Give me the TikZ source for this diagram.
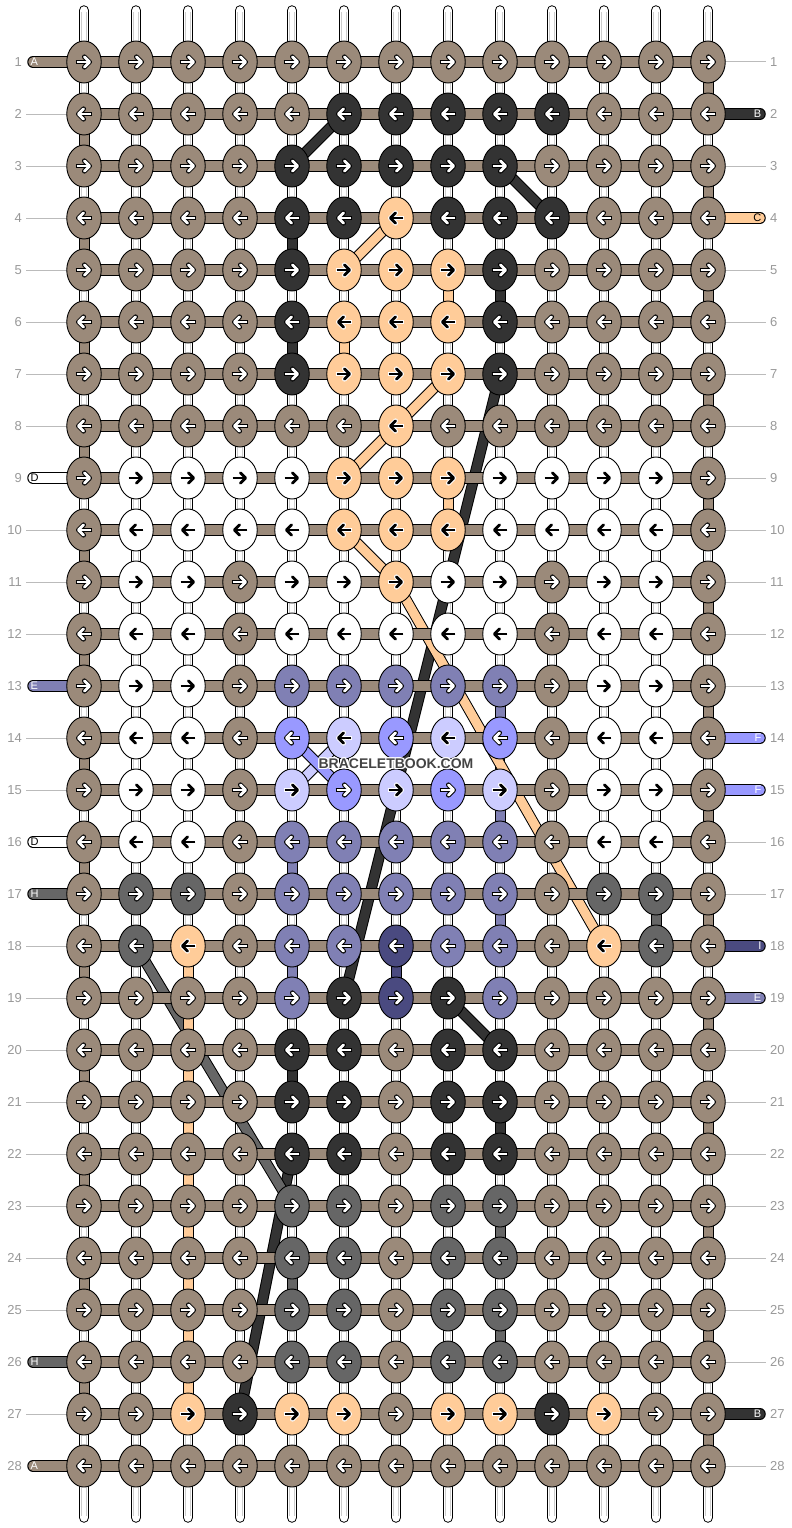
\documentclass[tikz,border=0pt]{standalone}
\usepackage{fontspec}
\setmainfont{Liberation Sans}
\usetikzlibrary{shapes.geometric}
\definecolor{cB}{HTML}{9B8A7A}
\definecolor{cD}{HTML}{333333}
\definecolor{cP}{HTML}{FFCC99}
\definecolor{cW}{HTML}{FFFFFF}
\definecolor{cM}{HTML}{8080B4}
\definecolor{cL}{HTML}{CCCCFF}
\definecolor{cV}{HTML}{9999FF}
\definecolor{cN}{HTML}{4A4A80}
\definecolor{cG}{HTML}{666666}
\definecolor{numgray}{HTML}{999999}
\definecolor{linegray}{HTML}{BBBBBB}
\definecolor{strgray}{HTML}{CCCCCC}
\definecolor{wmc}{HTML}{444444}
\def\fgB{white}\def\fgD{white}\def\fgP{black}\def\fgW{black}\def\fgM{white}
\def\fgL{black}\def\fgV{white}\def\fgN{white}\def\fgG{white}
\def\olB{black}\def\olD{black}\def\olP{white}\def\olW{white}\def\olM{black}
\def\olL{white}\def\olV{black}\def\olN{black}\def\olG{black}
\newcommand\thrd[3]{\draw[black,line width=11] (#2)--(#3);\draw[#1,line width=9] (#2)--(#3);}
\begin{document}
\begin{tikzpicture}[x=1pt,y=-1pt,
  knot/.style={ellipse,draw=black,line width=0.9,minimum width=34.5,minimum height=42,inner sep=0},
  num/.style={font=\fontsize{13}{15}\selectfont,text=numgray,inner sep=0},
  lab/.style={font=\fontsize{11}{13}\selectfont,inner sep=0},
  wm/.style={font=\bfseries\fontsize{14}{16}\selectfont,inner sep=0}]
\fill[white] (0,0) rectangle (792,1528);
\useasboundingbox (0,0) rectangle (792,1528);
% grid coordinates
\foreach \rw in {1,...,28}{\foreach \i in {1,...,13}{\coordinate (p\rw-\i) at ({32+52*\i},{10+52*\rw});}}
% vertical strings
\foreach \i in {1,...,13}{
  \coordinate (st\i) at ({32+52*\i},10.5);
  \coordinate (sb\i) at ({32+52*\i},1517.5);
  \coordinate (gt\i) at ({32+52*\i},12);
  \coordinate (gb\i) at ({32+52*\i},1516);
  \draw[black,line width=10.5,line cap=round] (st\i)--(sb\i);
  \draw[white,line width=8.5,line cap=round] (st\i)--(sb\i);
  \draw[strgray,line width=6] (gt\i)--(gb\i);
  \draw[white,line width=4] (gt\i)--(gb\i);
}
% diagonal thread paths
\foreach \a/\b/\cc in {2-6/3-5/cD,3-9/4-10/cD,7-9/19-6/cD,19-8/20-9/cD,22-5/27-4/cD,
  4-7/5-6/cP,7-8/8-7/cP,8-7/9-6/cP,10-6/11-7/cP,11-7/18-11/cP,18-2/23-5/cG,14-6/15-5/cL,14-5/15-6/cV}{
  \thrd{\cc}{p\a}{p\b}}
% vertical thread segments
\foreach \a in {2,4,...,26}{\pgfmathtruncatemacro\b{\a+1}\thrd{cB}{p\a-1}{p\b-1}}
\foreach \a in {1,3,...,27}{\pgfmathtruncatemacro\b{\a+1}\thrd{cB}{p\a-13}{p\b-13}}
\foreach \a in {18,...,26}{\pgfmathtruncatemacro\b{\a+1}\thrd{cP}{p\a-3}{p\b-3}}
\foreach \cl/\a/\cc in {5/4/cD,5/6/cD,5/16/cM,5/18/cM,5/20/cD,5/24/cG,9/5/cD,9/13/cM,9/15/cM,9/17/cM,
  9/21/cD,9/23/cG,9/25/cG,8/5/cP,8/9/cP,6/6/cP,7/18/cN,12/17/cG}{
  \pgfmathtruncatemacro\b{\a+1}\thrd{\cc}{p\a-\cl}{p\b-\cl}}
% horizontal bands
\foreach \rw in {1,...,28}{
  \draw[black,line width=11.5] (p\rw-1)--(p\rw-13);
  \draw[cB,line width=9.5] (p\rw-1)--(p\rw-13);
  \node[num,anchor=east] (nl\rw) at (22,{10+52*\rw}) {\rw};
  \node[num,anchor=west] (nr\rw) at (770,{10+52*\rw}) {\rw};
}
% left thread ends
\foreach \rw/\cc/\lb/\tc in {1/cB/A/white,9/cW/D/black,13/cM/E/white,16/cW/D/black,17/cG/H/white,26/cG/H/white,28/cB/A/white}{
  \coordinate (le\rw) at (33,{10+52*\rw});
  \draw[black,line width=11.5,line cap=round] (le\rw)--(p\rw-1);
  \draw[\cc,line width=9.5,line cap=round] (le\rw)--(p\rw-1);
  \node[lab,anchor=west,text=\tc] (ll\rw) at (30.5,{10+52*\rw}) {\lb};
}
% right thread ends
\foreach \rw/\cc/\lb/\tc in {2/cD/B/white,4/cP/C/black,14/cV/F/white,15/cV/F/white,18/cN/I/white,19/cM/E/white,27/cD/B/white}{
  \coordinate (re\rw) at (760,{10+52*\rw});
  \draw[black,line width=11.5,line cap=round] (p\rw-13)--(re\rw);
  \draw[\cc,line width=9.5,line cap=round] (p\rw-13)--(re\rw);
  \node[lab,anchor=east,text=\tc] (rl\rw) at (761.5,{10+52*\rw}) {\lb};
}
% grey leader lines
\foreach \rw in {2,3,4,5,6,7,8,10,11,12,14,15,18,19,20,21,22,23,24,25,27}{
  \coordinate (gl\rw) at (26,{10+52*\rw});
  \draw[linegray,line width=1] (gl\rw)--(p\rw-1);}
\foreach \rw in {1,3,5,6,7,8,9,10,11,12,13,16,17,20,21,22,23,24,25,26,28}{
  \coordinate (gr\rw) at (766,{10+52*\rw});
  \draw[linegray,line width=1] (p\rw-13)--(gr\rw);}
% knots
\foreach \rw/\rowlist in {
1/{B,B,B,B,B,B,B,B,B,B,B,B,B},
2/{B,B,B,B,B,D,D,D,D,D,B,B,B},
3/{B,B,B,B,D,D,D,D,D,B,B,B,B},
4/{B,B,B,B,D,D,P,D,D,D,B,B,B},
5/{B,B,B,B,D,P,P,P,D,B,B,B,B},
6/{B,B,B,B,D,P,P,P,D,B,B,B,B},
7/{B,B,B,B,D,P,P,P,D,B,B,B,B},
8/{B,B,B,B,B,B,P,B,B,B,B,B,B},
9/{B,W,W,W,W,P,P,P,W,W,W,W,B},
10/{B,W,W,W,W,P,P,P,W,W,W,W,B},
11/{B,W,W,B,W,W,P,W,W,B,W,W,B},
12/{B,W,W,B,W,W,W,W,W,B,W,W,B},
13/{B,W,W,B,M,M,M,M,M,B,W,W,B},
14/{B,W,W,B,V,L,V,L,V,B,W,W,B},
15/{B,W,W,B,L,V,L,V,L,B,W,W,B},
16/{B,W,W,B,M,M,M,M,M,B,W,W,B},
17/{B,G,G,B,M,M,M,M,M,B,G,G,B},
18/{B,G,P,B,M,M,N,M,M,B,P,G,B},
19/{B,B,B,B,M,D,N,D,M,B,B,B,B},
20/{B,B,B,B,D,D,B,D,D,B,B,B,B},
21/{B,B,B,B,D,D,B,D,D,B,B,B,B},
22/{B,B,B,B,D,D,B,D,D,B,B,B,B},
23/{B,B,B,B,G,G,B,G,G,B,B,B,B},
24/{B,B,B,B,G,G,B,G,G,B,B,B,B},
25/{B,B,B,B,G,G,B,G,G,B,B,B,B},
26/{B,B,B,B,G,G,B,G,G,B,B,B,B},
27/{B,B,P,D,P,P,B,P,P,D,P,B,B},
28/{B,B,B,B,B,B,B,B,B,B,B,B,B}}{
  \pgfmathsetmacro\kd{1-2*mod(\rw+1,2)}
  \pgfmathsetmacro\ky{10+52*\rw}
  \foreach \kc [count=\i] in \rowlist {
    \pgfmathsetmacro\kx{32+52*\i}
    \edef\fg{\csname fg\kc\endcsname}\edef\ol{\csname ol\kc\endcsname}
    \node[knot,fill=c\kc] (k\rw-\i) at (p\rw-\i) {};
    \draw[\ol,line width=4.8] ({\kx-8.4*\kd},\ky)--({\kx+5.6*\kd},\ky);
    \draw[\ol,line width=4.8,line cap=round,line join=round] ({\kx+0.4*\kd},{\ky-5.2})--({\kx+5.6*\kd},\ky)--({\kx+0.4*\kd},{\ky+5.2});
    \draw[\fg,line width=2.8] ({\kx-7.4*\kd},\ky)--({\kx+5.6*\kd},\ky);
    \draw[\fg,line width=2.8,line cap=round,line join=round] ({\kx+0.4*\kd},{\ky-5.2})--({\kx+5.6*\kd},\ky)--({\kx+0.4*\kd},{\ky+5.2});
  }
}
% watermark
\foreach \dx/\dy [count=\k] in {-1/-1,0/-1,1/-1,-1/0,1/0,-1/1,0/1,1/1}{
  \node[wm,text=white] (h\k) at ({396+\dx},{764+\dy}) {BRACELETBOOK.COM};}
\node[wm,text=wmc] (wm) at (396,764) {BRACELETBOOK.COM};
\end{tikzpicture}
\end{document}
